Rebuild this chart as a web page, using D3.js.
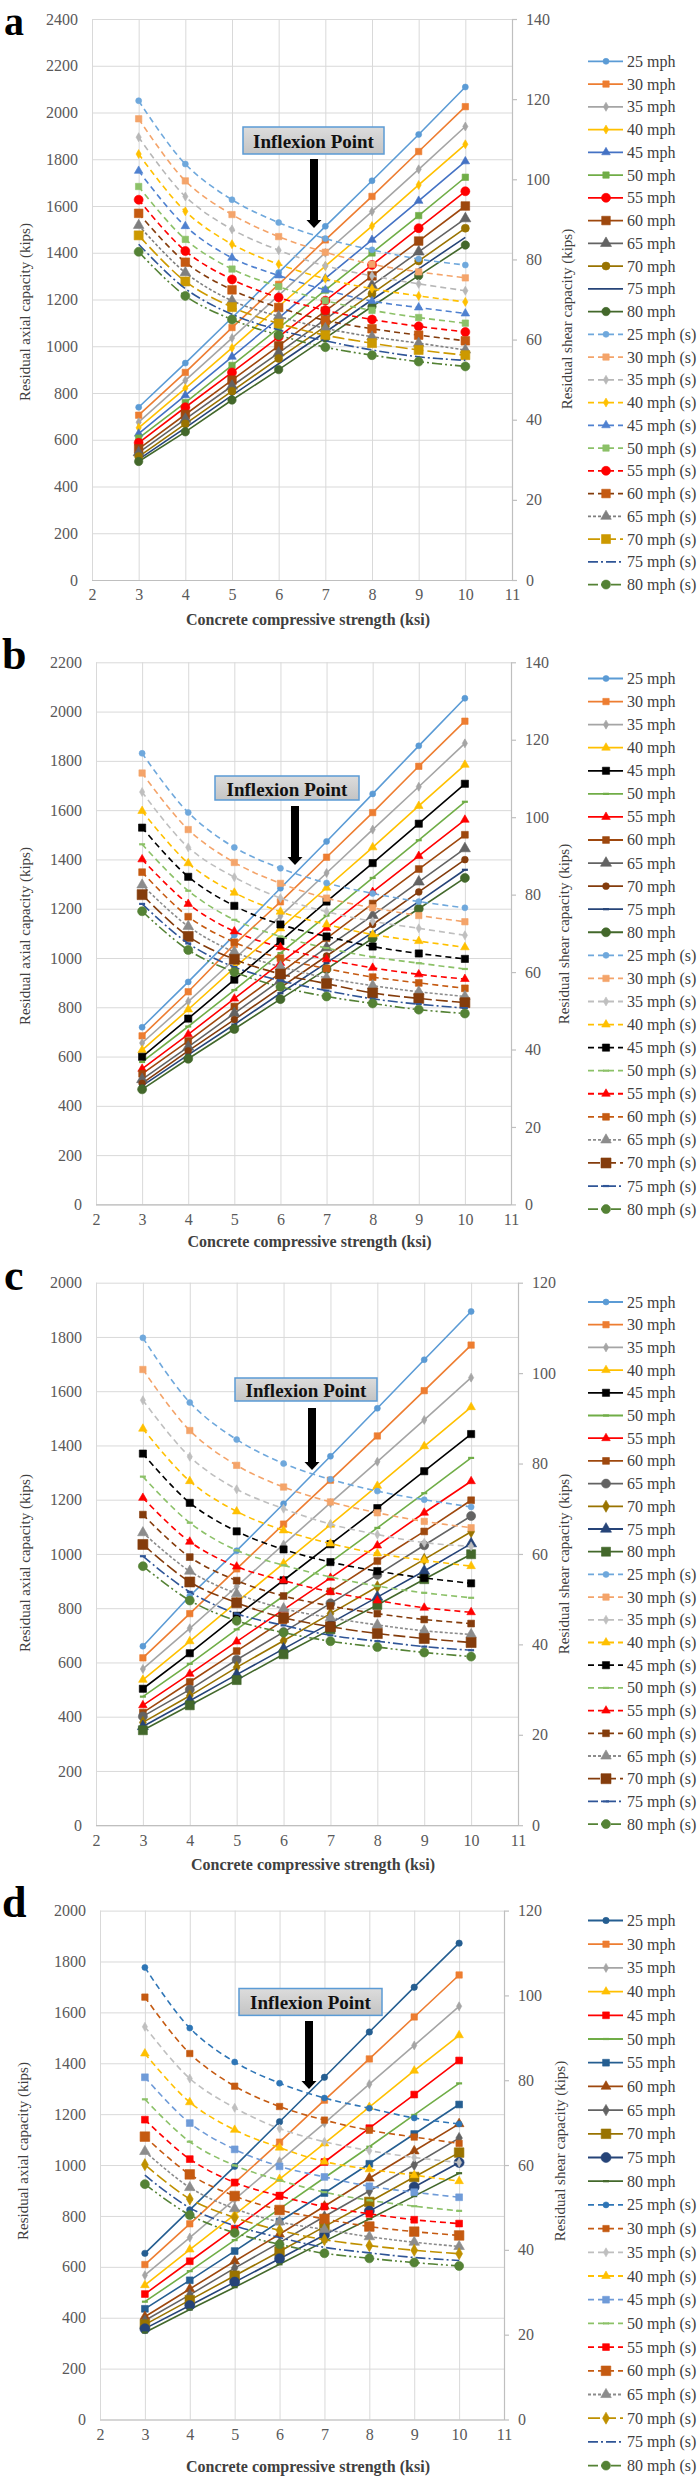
<!DOCTYPE html>
<html>
<head>
<meta charset="utf-8">
<script src="https://cdn.jsdelivr.net/npm/d3@7"></script>
<style>
  html, body { margin: 0; padding: 0; background: #ffffff; }
  svg { display: block; }
  text { font-family: "Liberation Serif", "Times New Roman", serif; }
</style>
</head>
<body>
<svg id="chart" width="700" height="2478"></svg>
<script>
// ---------------- DATA ----------------
const X_VALUES = [3, 4, 5, 6, 7, 8, 9, 10];
const X_TICKS = [2, 3, 4, 5, 6, 7, 8, 9, 10, 11];
const SPEEDS = ["25 mph", "30 mph", "35 mph", "40 mph", "45 mph", "50 mph", "55 mph", "60 mph", "65 mph", "70 mph", "75 mph", "80 mph"];
const SHEAR_LABELS = ["25 mph (s)", "30 mph (s)", "35 mph (s)", "40 mph (s)", "45 mph (s)", "50 mph (s)", "55 mph (s)", "60 mph (s)", "65 mph (s)", "70 mph (s)", "75 mph (s)", "80 mph (s)"];
const PANEL_LETTERS = ["a", "b", "c", "d"];
const X_TITLE = "Concrete compressive strength (ksi)";
const Y_TITLE = "Residual axial capacity (kips)";
const Y2_TITLE = "Residual shear capacity (kips)";
const ANNOTATION = "Inflexion Point";

const LEFT_TICKS_A = [0, 200, 400, 600, 800, 1000, 1200, 1400, 1600, 1800, 2000, 2200, 2400];
const LEFT_TICKS_B = [0, 200, 400, 600, 800, 1000, 1200, 1400, 1600, 1800, 2000, 2200];
const LEFT_TICKS_C = [0, 200, 400, 600, 800, 1000, 1200, 1400, 1600, 1800, 2000];
const LEFT_TICKS_D = [0, 200, 400, 600, 800, 1000, 1200, 1400, 1600, 1800, 2000];
const RIGHT_TICKS_A = [0, 20, 40, 60, 80, 100, 120, 140];
const RIGHT_TICKS_B = [0, 20, 40, 60, 80, 100, 120, 140];
const RIGHT_TICKS_C = [0, 20, 40, 60, 80, 100, 120];
const RIGHT_TICKS_D = [0, 20, 40, 60, 80, 100, 120];

// Panel a: residual axial capacity (kips), one row per wind speed
const AXIAL_A = [
  [739, 928, 1122, 1315, 1513, 1708, 1906, 2109],
  [705, 888, 1080, 1265, 1455, 1641, 1833, 2025],
  [675, 854, 1035, 1218, 1400, 1576, 1757, 1940],
  [651, 820, 993, 1170, 1343, 1514, 1690, 1864],
  [626, 790, 955, 1120, 1290, 1455, 1622, 1791],
  [607, 759, 918, 1078, 1240, 1399, 1559, 1723],
  [587, 739, 888, 1040, 1195, 1348, 1505, 1663],
  [561, 708, 855, 1002, 1150, 1301, 1450, 1600],
  [545, 688, 830, 972, 1115, 1260, 1404, 1546],
  [528, 668, 808, 948, 1085, 1225, 1365, 1505],
  [516, 651, 790, 925, 1060, 1199, 1331, 1466],
  [507, 634, 770, 900, 1035, 1170, 1302, 1433]
];
// Panel a: residual shear capacity (kips)
const SHEAR_A = [
  [119.6, 103.8, 94.9, 89.2, 85.2, 82.4, 80.1, 78.6],
  [115.1, 99.6, 91.2, 85.7, 81.8, 78.8, 76.9, 75.4],
  [110.5, 95.7, 87.5, 82.3, 78.4, 75.9, 73.9, 72.2],
  [106.3, 92.0, 83.8, 78.8, 75.2, 72.7, 70.9, 69.4],
  [102.1, 88.3, 80.4, 76.0, 72.4, 69.6, 68.0, 66.5],
  [98.2, 85.0, 77.6, 73.2, 69.7, 67.3, 65.5, 64.1],
  [94.9, 82.1, 75.0, 70.5, 67.3, 65.0, 63.3, 61.9],
  [91.5, 79.3, 72.4, 68.0, 64.8, 62.7, 61.1, 59.7],
  [88.5, 76.7, 69.7, 65.8, 62.8, 60.7, 59.1, 57.4],
  [86.0, 74.5, 68.1, 64.0, 61.1, 59.1, 57.4, 56.1],
  [83.8, 72.7, 66.3, 62.4, 59.7, 57.4, 55.7, 54.8],
  [81.9, 70.9, 65.0, 61.1, 58.1, 56.1, 54.5, 53.3]
];

const AXIAL_B = [
  [719, 903, 1093, 1283, 1473, 1666, 1861, 2054],
  [684, 863, 1055, 1228, 1409, 1590, 1778, 1961],
  [655, 823, 995, 1170, 1345, 1521, 1695, 1871],
  [626, 791, 960, 1120, 1285, 1449, 1617, 1784],
  [599, 754, 912, 1068, 1229, 1385, 1545, 1707],
  [578, 722, 870, 1020, 1172, 1325, 1478, 1634],
  [550, 690, 835, 980, 1122, 1268, 1414, 1561],
  [530, 663, 803, 940, 1080, 1221, 1361, 1500],
  [507, 639, 775, 910, 1042, 1173, 1309, 1444],
  [491, 623, 750, 880, 1008, 1136, 1268, 1399],
  [481, 607, 730, 857, 980, 1104, 1229, 1358],
  [467, 591, 712, 833, 955, 1080, 1200, 1325]
];
const SHEAR_B = [
  [116.5, 101.2, 92.2, 86.8, 83.0, 80.3, 78.2, 76.6],
  [111.4, 96.8, 88.3, 82.9, 79.1, 76.6, 74.6, 73.0],
  [106.5, 92.2, 84.5, 79.1, 75.6, 73.1, 71.3, 69.5],
  [101.6, 88.1, 80.5, 75.6, 72.3, 69.7, 68.0, 66.4],
  [97.3, 84.6, 77.1, 72.3, 69.2, 66.6, 64.8, 63.4],
  [93.0, 81.0, 73.5, 69.2, 66.2, 63.9, 62.3, 60.8],
  [89.1, 77.6, 70.5, 66.4, 63.3, 61.1, 59.4, 58.2],
  [85.8, 74.3, 67.7, 63.6, 60.9, 58.7, 57.2, 55.8],
  [82.5, 71.8, 65.2, 61.4, 58.5, 56.5, 54.9, 53.7],
  [80.0, 69.2, 63.3, 59.5, 57.0, 54.6, 53.2, 52.1],
  [77.6, 67.4, 61.3, 57.8, 55.2, 53.1, 51.7, 50.7],
  [75.7, 65.7, 60.0, 56.2, 53.7, 51.9, 50.3, 49.3]
];

const AXIAL_C = [
  [660, 845, 1012, 1185, 1360, 1537, 1716, 1894],
  [617, 780, 945, 1110, 1272, 1435, 1602, 1770],
  [576, 726, 880, 1035, 1188, 1340, 1494, 1650],
  [536, 678, 822, 965, 1108, 1251, 1397, 1541],
  [503, 634, 772, 903, 1036, 1169, 1305, 1442],
  [474, 595, 722, 845, 970, 1096, 1224, 1354],
  [442, 558, 677, 795, 912, 1031, 1152, 1268],
  [415, 528, 642, 755, 862, 974, 1083, 1198],
  [401, 500, 610, 712, 818, 923, 1032, 1140],
  [379, 477, 582, 680, 780, 879, 980, 1082],
  [364, 459, 555, 650, 745, 841, 937, 1038],
  [350, 442, 535, 630, 722, 812, 907, 999]
];
const SHEAR_C = [
  [107.8, 93.5, 85.3, 80.0, 76.5, 73.9, 72.0, 70.4],
  [100.8, 87.3, 79.6, 74.8, 71.5, 69.1, 67.2, 65.8],
  [94.0, 81.5, 74.3, 70.0, 66.6, 64.3, 62.5, 61.7],
  [87.7, 76.1, 69.4, 65.2, 62.3, 60.1, 58.6, 57.3],
  [82.2, 71.3, 65.0, 61.0, 58.2, 56.2, 54.7, 53.5],
  [77.1, 66.9, 60.8, 57.5, 54.9, 52.9, 51.4, 50.3],
  [72.4, 62.7, 57.2, 54.1, 51.6, 49.7, 48.1, 47.1],
  [68.7, 59.3, 54.1, 50.7, 48.5, 46.8, 45.5, 44.6],
  [64.7, 56.2, 51.2, 47.9, 45.9, 44.3, 43.0, 42.2],
  [62.1, 53.8, 49.2, 45.9, 43.9, 42.4, 41.3, 40.4],
  [59.5, 51.6, 46.8, 44.2, 42.0, 40.7, 39.5, 38.7],
  [57.3, 49.7, 45.2, 42.6, 40.7, 39.4, 38.2, 37.3]
];

const AXIAL_D = [
  [653, 824, 995, 1170, 1345, 1523, 1699, 1872],
  [609, 769, 930, 1090, 1255, 1417, 1582, 1747],
  [567, 715, 865, 1015, 1165, 1318, 1470, 1624],
  [528, 668, 805, 945, 1085, 1228, 1371, 1510],
  [493, 622, 750, 880, 1012, 1145, 1277, 1411],
  [463, 583, 705, 828, 950, 1072, 1197, 1321],
  [435, 547, 662, 778, 890, 1005, 1122, 1238],
  [404, 513, 622, 728, 838, 948, 1055, 1162],
  [389, 490, 595, 695, 798, 898, 1001, 1106],
  [373, 469, 565, 660, 758, 855, 953, 1049],
  [357, 448, 540, 632, 725, 819, 914, 1010],
  [342, 432, 520, 610, 700, 788, 878, 968]
];
const SHEAR_D = [
  [106.6, 92.3, 84.3, 79.3, 75.8, 73.4, 71.1, 69.7],
  [99.6, 86.3, 78.6, 73.8, 70.6, 68.2, 66.6, 65.1],
  [92.6, 80.4, 73.5, 68.6, 65.5, 63.4, 61.8, 60.6],
  [86.3, 74.8, 68.3, 64.1, 60.8, 59.0, 57.6, 56.2],
  [80.7, 69.9, 63.7, 59.7, 57.2, 55.0, 53.6, 52.4],
  [75.5, 65.5, 59.9, 56.4, 53.6, 51.7, 50.3, 49.2],
  [70.7, 61.4, 55.9, 52.7, 50.2, 48.5, 47.1, 46.2],
  [66.7, 57.8, 52.7, 49.4, 47.3, 45.5, 44.3, 43.4],
  [63.2, 54.7, 49.7, 46.6, 44.8, 43.1, 41.8, 40.8],
  [60.1, 52.0, 47.6, 44.6, 42.4, 41.0, 39.9, 39.1],
  [57.6, 49.9, 45.7, 42.9, 40.6, 39.3, 38.2, 37.5],
  [55.5, 48.2, 44.0, 41.3, 39.2, 38.0, 37.0, 36.2]
];

// ---------------- STYLES ----------------
const D1 = "6,4", D65 = "3,2", D70 = "12,4", D75 = "10,3,2,3", D80 = "10,3,2,3,2,3";
const STYLE_A_SOLID = [
  {c: "#5B9BD5", m: "circle", s: 3}, {c: "#ED7D31", m: "square", s: 3.2}, {c: "#A5A5A5", m: "diamond", s: 3},
  {c: "#FFC000", m: "diamond", s: 3}, {c: "#4472C4", m: "triangle", s: 3.5}, {c: "#70AD47", m: "square", s: 3.2},
  {c: "#FF0000", m: "circle", s: 4.5}, {c: "#9E480E", m: "square", s: 4.3}, {c: "#636363", m: "triangle", s: 4.5},
  {c: "#997300", m: "circle", s: 4}, {c: "#264478", m: "none", s: 0}, {c: "#43682B", m: "circle", s: 4.2}
];
const STYLE_A_DASH = [
  {c: "#6FA8DC", m: "circle", s: 3, d: D1}, {c: "#F4A46A", m: "square", s: 3.2, d: D1}, {c: "#B7B7B7", m: "diamond", s: 3, d: D1},
  {c: "#FFC000", m: "diamond", s: 3, d: D1}, {c: "#4F81D0", m: "triangle", s: 3.5, d: D1}, {c: "#8CC168", m: "square", s: 3.2, d: D1},
  {c: "#FF0000", m: "circle", s: 4.5, d: D1}, {c: "#C55A11", m: "square", s: 4.3, d: D1, lc: "#843C0C"}, {c: "#7F7F7F", m: "triangle", s: 4.3, d: D65},
  {c: "#CC9900", m: "square", s: 4.5, d: D70}, {c: "#2F5597", m: "none", s: 0, d: D75}, {c: "#548235", m: "circle", s: 4.5, d: D80}
];
const STYLE_B_SOLID = [
  {c: "#5B9BD5", m: "circle", s: 3}, {c: "#ED7D31", m: "square", s: 3.2}, {c: "#A5A5A5", m: "diamond", s: 3},
  {c: "#FFC000", m: "triangle", s: 3.5}, {c: "#000000", m: "square", s: 3.6}, {c: "#70AD47", m: "dash", s: 3},
  {c: "#FF0000", m: "triangle", s: 3.5}, {c: "#9E480E", m: "square", s: 3.4}, {c: "#636363", m: "triangle", s: 4.5},
  {c: "#843C0C", m: "circle", s: 3.4}, {c: "#264478", m: "dash", s: 3}, {c: "#43682B", m: "circle", s: 4.5}
];
const STYLE_B_DASH = [
  {c: "#6FA8DC", m: "circle", s: 3, d: D1}, {c: "#F4A46A", m: "square", s: 3.2, d: D1}, {c: "#BFBFBF", m: "diamond", s: 3, d: D1},
  {c: "#FFC000", m: "triangle", s: 3.5, d: D1}, {c: "#000000", m: "square", s: 3.6, d: D1}, {c: "#8CC168", m: "dash", s: 3, d: D1},
  {c: "#FF0000", m: "triangle", s: 3.5, d: D1}, {c: "#C55A11", m: "square", s: 3.4, d: D1}, {c: "#8C8C8C", m: "triangle", s: 4.3, d: D65},
  {c: "#843C0C", m: "square", s: 5, d: D70}, {c: "#2F5597", m: "dash", s: 3, d: D75}, {c: "#548235", m: "circle", s: 4.5, d: D80}
];
const STYLE_C_SOLID = [
  {c: "#5B9BD5", m: "circle", s: 3}, {c: "#ED7D31", m: "square", s: 3.2}, {c: "#A5A5A5", m: "diamond", s: 3},
  {c: "#FFC000", m: "triangle", s: 3.5}, {c: "#000000", m: "square", s: 3.6}, {c: "#70AD47", m: "dash", s: 3},
  {c: "#FF0000", m: "triangle", s: 3.5}, {c: "#9E480E", m: "square", s: 3.4}, {c: "#636363", m: "circle", s: 4.5},
  {c: "#997300", m: "diamond", s: 4}, {c: "#264478", m: "triangle", s: 4.5}, {c: "#43682B", m: "square", s: 4.5}
];
const STYLE_C_DASH = [
  {c: "#6FA8DC", m: "circle", s: 3, d: D1}, {c: "#F4A46A", m: "square", s: 3.2, d: D1}, {c: "#BFBFBF", m: "diamond", s: 3, d: D1},
  {c: "#FFC000", m: "triangle", s: 3.5, d: D1}, {c: "#000000", m: "square", s: 3.6, d: D1}, {c: "#8CC168", m: "dash", s: 3, d: D1},
  {c: "#FF0000", m: "triangle", s: 3.5, d: D1}, {c: "#843C0C", m: "square", s: 3.4, d: D1}, {c: "#8C8C8C", m: "triangle", s: 4.3, d: D65},
  {c: "#843C0C", m: "square", s: 5, d: D70}, {c: "#2F5597", m: "dash", s: 3, d: D75}, {c: "#548235", m: "circle", s: 4.5, d: D80}
];
const STYLE_D_SOLID = [
  {c: "#255E91", m: "circle", s: 3.2}, {c: "#ED7D31", m: "square", s: 3.2}, {c: "#A5A5A5", m: "diamond", s: 3},
  {c: "#FFC000", m: "triangle", s: 3.5}, {c: "#FF0000", m: "square", s: 3.4}, {c: "#70AD47", m: "dash", s: 3},
  {c: "#255E91", m: "square", s: 3.4}, {c: "#9E480E", m: "triangle", s: 4}, {c: "#636363", m: "diamond", s: 3.8},
  {c: "#997300", m: "square", s: 4.8}, {c: "#264478", m: "circle", s: 5}, {c: "#43682B", m: "dash", s: 3}
];
const STYLE_D_DASH = [
  {c: "#2E75B6", m: "circle", s: 3, d: D1}, {c: "#C55A11", m: "square", s: 3.2, d: D1}, {c: "#BFBFBF", m: "diamond", s: 3, d: D1},
  {c: "#FFC000", m: "triangle", s: 3.5, d: D1}, {c: "#6F9BD8", m: "square", s: 3.4, d: D1}, {c: "#8CC168", m: "dash", s: 3, d: D1},
  {c: "#FF0000", m: "square", s: 3.4, d: D1}, {c: "#C55A11", m: "square", s: 4.8, d: D1}, {c: "#8C8C8C", m: "triangle", s: 4.3, d: D65},
  {c: "#BF9000", m: "diamond", s: 4, d: D70}, {c: "#2F5597", m: "none", s: 0, d: D75}, {c: "#548235", m: "circle", s: 4.5, d: D80}
];

// ---------------- LAYOUT ----------------
const PANELS = [
  {letter: PANEL_LETTERS[0], axial: AXIAL_A, shear: SHEAR_A, solid: STYLE_A_SOLID, dash: STYLE_A_DASH,
   leftTicks: LEFT_TICKS_A, rightTicks: RIGHT_TICKS_A,
   top: 19, bottom: 580, left: 92, right: 512, letterX: 4, letterY: 35, letterSize: 40,
   yTitleX: 25, yTitleY: 312, y2TitleX: 567, y2TitleY: 319, xTitleY: 619,
   legendTop: 61.3, legendStep: 22.75, box: [243, 127, 384, 154], arrow: [314, 159, 228]},
  {letter: PANEL_LETTERS[1], axial: AXIAL_B, shear: SHEAR_B, solid: STYLE_B_SOLID, dash: STYLE_B_DASH,
   leftTicks: LEFT_TICKS_B, rightTicks: RIGHT_TICKS_B,
   top: 662.3, bottom: 1204.4, left: 96, right: 511, letterX: 2, letterY: 669, letterSize: 44,
   yTitleX: 25, yTitleY: 936, y2TitleX: 564, y2TitleY: 934, xTitleY: 1241,
   legendTop: 678.5, legendStep: 23.07, box: [215, 776, 359, 800], arrow: [295, 806, 865]},
  {letter: PANEL_LETTERS[2], axial: AXIAL_C, shear: SHEAR_C, solid: STYLE_C_SOLID, dash: STYLE_C_DASH,
   leftTicks: LEFT_TICKS_C, rightTicks: RIGHT_TICKS_C,
   top: 1282.7, bottom: 1825.2, left: 96, right: 518, letterX: 4, letterY: 1290, letterSize: 44,
   yTitleX: 25, yTitleY: 1563, y2TitleX: 564, y2TitleY: 1564, xTitleY: 1864,
   legendTop: 1302, legendStep: 22.7, box: [235, 1378, 377, 1401], arrow: [312, 1408, 1470]},
  {letter: PANEL_LETTERS[3], axial: AXIAL_D, shear: SHEAR_D, solid: STYLE_D_SOLID, dash: STYLE_D_DASH,
   leftTicks: LEFT_TICKS_D, rightTicks: RIGHT_TICKS_D,
   top: 1910.6, bottom: 2419.5, left: 100, right: 504, letterX: 2, letterY: 1917, letterSize: 44,
   yTitleX: 23, yTitleY: 2151, y2TitleX: 560, y2TitleY: 2151, xTitleY: 2466,
   legendTop: 1920.5, legendStep: 23.7, box: [239, 1988.5, 382, 2015.4], arrow: [309, 2021, 2089]}
];

const GRID = "#D9D9D9", AXIS = "#BFBFBF", TICKTXT = "#595959", TITLE = "#404040";
const svg = d3.select("#chart");
svg.append("rect").attr("width", 700).attr("height", 2478).attr("fill", "#fff");

const defs = svg.append("defs");
const grad = defs.append("linearGradient").attr("id", "boxg").attr("x1", 0).attr("y1", 0).attr("x2", 0).attr("y2", 1);
grad.append("stop").attr("offset", "0%").attr("stop-color", "#DCDCDC");
grad.append("stop").attr("offset", "100%").attr("stop-color", "#C4C4C4");

function markerPath(type, s) {
  if (type === "circle") return d3.symbol(d3.symbolCircle, Math.PI * s * s)();
  if (type === "square") return d3.symbol(d3.symbolSquare, 4 * s * s)();
  if (type === "diamond") return d3.symbol(d3.symbolDiamond, 2.6 * s * s)();
  if (type === "triangle") return d3.symbol(d3.symbolTriangle, 2.6 * s * s)();
  return null;
}
function drawMarker(g, st, cx, cy) {
  if (st.m === "none") return;
  if (st.m === "dash") {
    g.append("line").attr("x1", cx - st.s).attr("x2", cx + st.s).attr("y1", cy).attr("y2", cy)
      .attr("stroke", st.c).attr("stroke-width", 2.2);
    return;
  }
  g.append("path").attr("d", markerPath(st.m, st.s)).attr("transform", `translate(${cx},${cy})`)
    .attr("fill", st.c).attr("stroke", st.c).attr("stroke-width", 0.6);
}

PANELS.forEach(P => {
  const g = svg.append("g");
  const x = d3.scaleLinear().domain([2, 11]).range([P.left, P.right]);
  const yMax = P.leftTicks[P.leftTicks.length - 1];
  const y2Max = P.rightTicks[P.rightTicks.length - 1];
  const y = d3.scaleLinear().domain([0, yMax]).range([P.bottom, P.top]);
  const y2 = d3.scaleLinear().domain([0, y2Max]).range([P.bottom, P.top]);

  // horizontal gridlines + left tick labels
  const ga = g.append("g").attr("transform", `translate(${P.left},0)`)
    .call(d3.axisLeft(y).tickValues(P.leftTicks).tickSize(-(P.right - P.left)).tickPadding(14).tickFormat(d3.format("d")));
  ga.select(".domain").remove();
  ga.selectAll(".tick line").attr("stroke", GRID).attr("stroke-width", 1);
  ga.selectAll(".tick text").attr("fill", TICKTXT).style("font-size", "16px").style("font-family", "Liberation Serif");

  // vertical gridlines + x tick labels
  const gb = g.append("g").attr("transform", `translate(0,${P.bottom})`)
    .call(d3.axisBottom(x).tickValues(X_TICKS).tickSize(-(P.bottom - P.top)).tickPadding(9).tickFormat(d3.format("d")));
  gb.select(".domain").remove();
  gb.selectAll(".tick line").attr("stroke", GRID).attr("stroke-width", 1);
  gb.selectAll(".tick text").attr("fill", TICKTXT).style("font-size", "16px").style("font-family", "Liberation Serif");

  // bottom axis line
  g.append("line").attr("x1", P.left).attr("x2", P.right).attr("y1", P.bottom + 0.5).attr("y2", P.bottom + 0.5)
    .attr("stroke", AXIS).attr("stroke-width", 1.2);

  // right axis
  const gr = g.append("g").attr("transform", `translate(${P.right},0)`)
    .call(d3.axisRight(y2).tickValues(P.rightTicks).tickSize(5).tickSizeOuter(0).tickPadding(9).tickFormat(d3.format("d")));
  gr.select(".domain").attr("stroke", AXIS).attr("stroke-width", 1.2);
  gr.selectAll(".tick line").attr("stroke", AXIS).attr("stroke-width", 1.2);
  gr.selectAll(".tick text").attr("fill", TICKTXT).style("font-size", "16px").style("font-family", "Liberation Serif");

  // series
  const lineSolid = d3.line().x(d => x(d[0])).y(d => y(d[1]));
  const lineDash = d3.line().x(d => x(d[0])).y(d => y2(d[1])).curve(d3.curveCatmullRom.alpha(0.5));

  P.axial.forEach((vals, i) => {
    const st = P.solid[i];
    const pts = X_VALUES.map((xv, k) => [xv, vals[k]]);
    g.append("path").attr("d", lineSolid(pts)).attr("fill", "none").attr("stroke", st.c).attr("stroke-width", 1.6);
  });
  P.axial.forEach((vals, i) => {
    const st = P.solid[i];
    X_VALUES.forEach((xv, k) => drawMarker(g, st, x(xv), y(vals[k])));
  });
  P.shear.forEach((vals, i) => {
    const st = P.dash[i];
    const pts = X_VALUES.map((xv, k) => [xv, vals[k]]);
    g.append("path").attr("d", lineDash(pts)).attr("fill", "none").attr("stroke", st.lc || st.c)
      .attr("stroke-width", 1.6).attr("stroke-dasharray", st.d);
    X_VALUES.forEach((xv, k) => drawMarker(g, st, x(xv), y2(vals[k])));
  });

  // panel letter
  g.append("text").attr("x", P.letterX).attr("y", P.letterY).text(P.letter)
    .attr("fill", "#000").style("font-size", P.letterSize + "px").style("font-weight", "bold").style("font-family", "Liberation Serif");

  // axis titles
  g.append("text").attr("transform", `translate(${P.yTitleX},${P.yTitleY}) rotate(-90)`)
    .attr("text-anchor", "middle").attr("dominant-baseline", "central").attr("fill", TITLE)
    .style("font-size", "15px").text(Y_TITLE);
  g.append("text").attr("transform", `translate(${P.y2TitleX},${P.y2TitleY}) rotate(-90)`)
    .attr("text-anchor", "middle").attr("dominant-baseline", "central").attr("fill", TITLE)
    .style("font-size", "15px").text(Y2_TITLE);
  g.append("text").attr("x", (P.left + P.right) / 2 + 6).attr("y", P.xTitleY)
    .attr("text-anchor", "middle").attr("dominant-baseline", "central").attr("fill", TITLE)
    .style("font-size", "16px").style("font-weight", "bold").text(X_TITLE);

  // annotation box + arrow
  const [bx1, by1, bx2, by2] = P.box;
  g.append("rect").attr("x", bx1).attr("y", by1).attr("width", bx2 - bx1).attr("height", by2 - by1)
    .attr("fill", "url(#boxg)").attr("stroke", "#5B9BD5").attr("stroke-width", 1.5);
  g.append("text").attr("x", (bx1 + bx2) / 2).attr("y", (by1 + by2) / 2 + 1)
    .attr("text-anchor", "middle").attr("dominant-baseline", "central").attr("fill", "#111")
    .style("font-size", "19px").style("font-weight", "bold").text(ANNOTATION);
  const [ax, ay1, ay2] = P.arrow;
  g.append("path").attr("d",
    `M${ax - 4},${ay1}H${ax + 4}V${ay2 - 8}H${ax + 7.5}L${ax},${ay2}L${ax - 7.5},${ay2 - 8}H${ax - 4}Z`)
    .attr("fill", "#000");

  // legend
  const lg = g.append("g");
  const labels = SPEEDS.concat(SHEAR_LABELS);
  const styles = P.solid.concat(P.dash);
  labels.forEach((lab, i) => {
    const cy = P.legendTop + i * P.legendStep;
    const st = styles[i];
    lg.append("line").attr("x1", 588).attr("x2", 623).attr("y1", cy).attr("y2", cy)
      .attr("stroke", st.lc || st.c).attr("stroke-width", 1.8).attr("stroke-dasharray", st.d || null);
    drawMarker(lg, st, 606, cy);
    lg.append("text").attr("x", 627).attr("y", cy).attr("dominant-baseline", "central")
      .attr("fill", TITLE).style("font-size", "16px").text(lab);
  });
});
</script>
</body>
</html>
